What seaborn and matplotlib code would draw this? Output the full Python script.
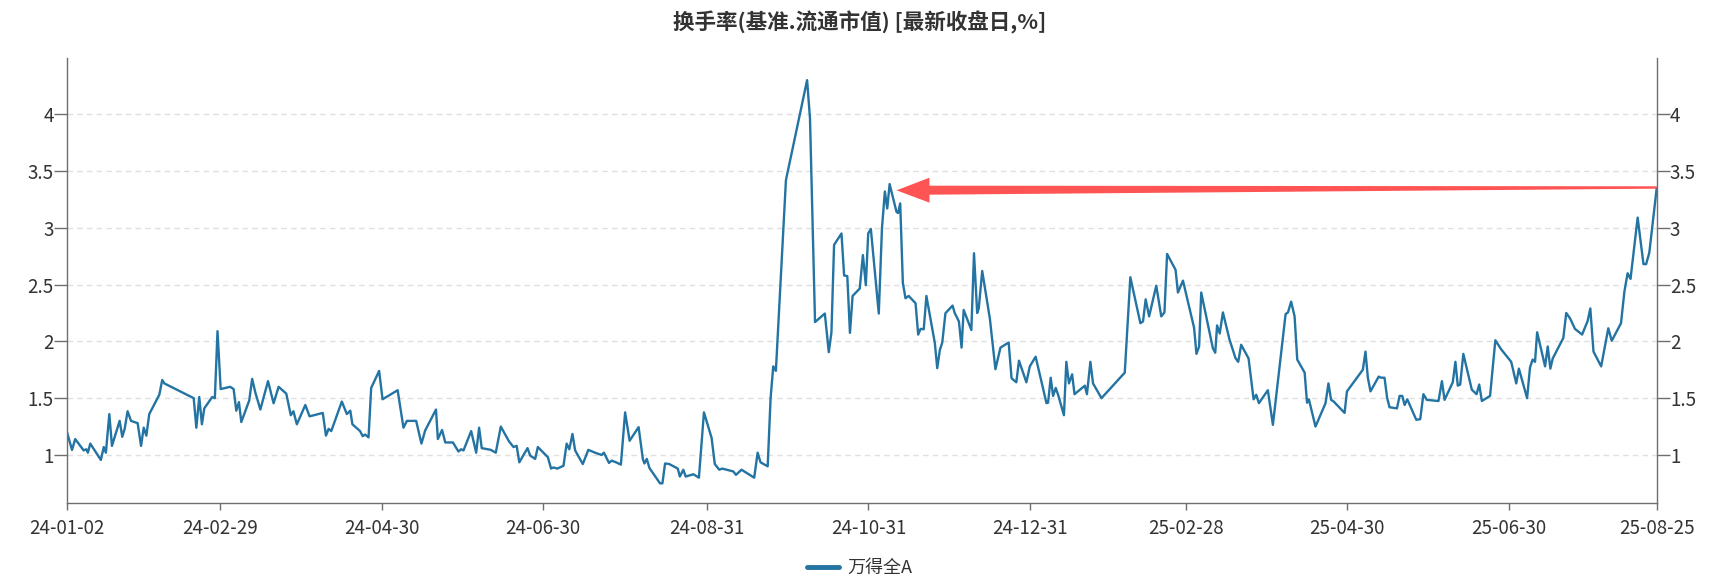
import numpy as np
import pandas as pd
import matplotlib
matplotlib.use('Agg')
import matplotlib.pyplot as plt
import matplotlib.dates as mdates
from matplotlib.patches import Polygon
import seaborn as sns

# 日期以 2024-01-02 为起点的天数
start_date = '2024-01-02'
end_date = '2025-08-25'
days = [
    0, 1.9, 3.1, 6.3, 7.3, 7.9, 8.8, 12.8, 13.9, 14.7, 16.0, 17.0, 19.9, 20.9, 21.8, 22.9,
    24.2, 26.7, 28.0, 29.0, 30.0, 31.1, 34.9, 36.0, 36.8, 47.9, 48.9, 50.0, 51.0, 51.9,
    54.9, 55.9, 56.9, 58.1, 61.7, 63.0, 64.0, 65.0, 65.9, 68.9, 70.0, 71.2, 73.1, 76.0,
    78.1, 80.0, 82.9, 84.6, 85.6, 86.9, 90.1, 91.7, 96.7, 97.9, 98.9, 99.9, 103.9, 105.8,
    107.1, 107.9, 110.8, 111.8, 112.7, 114.0, 115.0, 118.0, 119.3, 125.0, 127.2, 128.5,
    132.0, 134.0, 135.4, 139.5, 140.2, 141.8, 143.0, 145.9, 148.0, 149.0, 149.9, 152.8,
    154.7, 155.8, 156.8, 160.2, 162.1, 164.0, 167.1, 168.8, 170.0, 171.0, 174.1, 175.1,
    177.0, 178.0, 181.8, 183.0, 183.9, 185.4, 187.7, 188.9, 189.9, 191.1, 192.1, 195.0,
    197.1, 199.6, 202.1, 203.0, 204.9, 205.9, 207.6, 209.4, 211.0, 212.7, 216.1, 217.7,
    218.3, 219.2, 220.2, 224.2, 225.1, 226.1, 227.7, 230.9, 231.7, 233.0, 233.9, 236.8,
    238.9, 240.8, 243.7, 244.9, 246.6, 247.7, 251.9, 252.9, 255.0, 259.8, 261.1, 262.2,
    264.9, 266.0, 267.0, 268.0, 271.8, 279.8, 280.9, 282.8, 286.5, 288.0, 289.0, 290.0,
    292.8, 293.8, 295.0, 296.0, 297.0, 299.7, 300.9, 302.0, 302.9, 303.9, 306.9, 308.1,
    309.2, 310.1, 311.0, 313.6, 314.2, 315.0, 316.0, 317.0, 318.2, 320.8, 321.8, 322.7,
    323.9, 324.9, 328.1, 329.0, 330.0, 330.9, 332.1, 334.8, 335.6, 337.2, 338.2, 339.0,
    341.9, 342.9, 344.1, 344.7, 346.0, 348.9, 351.0, 352.9, 356.0, 357.1, 358.9, 359.9,
    362.7, 364.0, 366.2, 370.3, 370.9, 371.9, 372.8, 373.8, 374.7, 376.9, 377.8, 378.8,
    380.0, 380.9, 384.8, 385.6, 386.9, 387.9, 391.1, 399.9, 402.0, 405.8, 406.8, 407.8,
    409.1, 411.8, 413.7, 414.9, 415.9, 419.1, 420.0, 421.9, 426.1, 427.0, 428.0, 428.8,
    433.2, 434.1, 434.8, 435.8, 437.0, 439.5, 441.8, 442.8, 443.9, 446.7, 448.6, 449.6,
    450.6, 454.0, 455.9, 460.7, 461.6, 462.8, 464.1, 465.1, 467.9, 468.8, 469.5, 472.0,
    475.8, 476.9, 477.9, 478.9, 483.0, 483.9, 489.9, 490.9, 491.8, 492.8, 495.9, 496.8,
    498.1, 499.1, 500.0, 502.8, 503.8, 504.8, 505.7, 506.7, 510.1, 511.6, 512.8, 514.1,
    518.5, 519.8, 520.8, 523.9, 524.9, 525.8, 526.7, 527.9, 531.1, 532.9, 533.9, 534.9,
    538.0, 540.0, 542.2, 546.0, 547.9, 548.9, 552.0, 553.1, 554.1, 555.0, 555.8, 558.8,
    559.8, 560.8, 561.7, 565.7, 566.8, 568.3, 570.1, 572.8, 574.9, 575.9, 577.1, 580.0,
    582.7, 584.0, 587.5, 588.8, 590.0, 591.1, 593.8, 596.0, 597.0, 598.2, 601.0,
]
turnover = [
    1.20, 1.044, 1.14, 1.04, 1.05, 1.02, 1.10, 0.956, 1.07, 1.02, 1.36, 1.08, 1.30, 1.16, 1.23, 1.385,
    1.30, 1.28, 1.08, 1.24, 1.17, 1.36, 1.53, 1.66, 1.63, 1.50, 1.24, 1.51, 1.27, 1.41,
    1.51, 1.50, 2.09, 1.58, 1.60, 1.58, 1.39, 1.465, 1.29, 1.48, 1.67, 1.55, 1.40, 1.65,
    1.455, 1.60, 1.54, 1.35, 1.385, 1.27, 1.44, 1.34, 1.37, 1.17, 1.23, 1.21, 1.47, 1.36,
    1.39, 1.27, 1.21, 1.165, 1.18, 1.155, 1.59, 1.74, 1.49, 1.57, 1.24, 1.30,
    1.30, 1.10, 1.215, 1.40, 1.14, 1.22, 1.11, 1.11, 1.03, 1.05, 1.04, 1.21,
    1.02, 1.24, 1.06, 1.045, 1.02, 1.25, 1.12, 1.07, 1.08, 0.935, 1.06, 0.995,
    0.965, 1.07, 0.98, 0.88, 0.89, 0.88, 0.905, 1.10, 1.05, 1.185, 1.04, 0.92,
    1.045, 1.02, 1.00, 1.02, 0.93, 0.95, 0.935, 0.915, 1.375, 1.125, 1.245, 0.965,
    0.925, 0.965, 0.885, 0.75, 0.75, 0.925, 0.92, 0.88, 0.81, 0.87, 0.81, 0.83,
    0.80, 1.375, 1.15, 0.92, 0.87, 0.88, 0.855, 0.825, 0.87, 0.80, 1.02, 0.935,
    0.90, 1.50, 1.78, 1.74, 3.42, 4.30, 3.96, 2.17, 2.245, 1.905, 2.08, 2.85,
    2.95, 2.58, 2.575, 2.075, 2.40, 2.465, 2.76, 2.495, 2.95, 2.99, 2.245, 2.995,
    3.32, 3.17, 3.385, 3.14, 3.13, 3.215, 2.515, 2.38, 2.40, 2.336, 2.06, 2.11,
    2.107, 2.40, 1.984, 1.764, 1.925, 1.99, 2.248, 2.315, 2.25, 2.175, 1.945, 2.277,
    2.10, 2.776, 2.25, 2.29, 2.62, 2.20, 1.755, 1.945, 1.99, 1.675, 1.64, 1.83,
    1.64, 1.78, 1.865, 1.456, 1.46, 1.68, 1.52, 1.59, 1.53, 1.35, 1.82, 1.63,
    1.71, 1.535, 1.61, 1.535, 1.82, 1.63, 1.50, 1.725, 2.565, 2.16, 2.176, 2.37,
    2.22, 2.49, 2.22, 2.255, 2.77, 2.63, 2.43, 2.535, 2.12, 1.89, 1.955, 2.43,
    1.94, 1.90, 2.14, 2.07, 2.255, 2.015, 1.85, 1.82, 1.97, 1.85, 1.49, 1.53,
    1.456, 1.57, 1.265, 2.24, 2.255, 2.35, 2.22, 1.84, 1.725, 1.46, 1.49, 1.25,
    1.456, 1.63, 1.485, 1.47, 1.37, 1.56, 1.75, 1.91, 1.68, 1.56, 1.69, 1.68,
    1.68, 1.50, 1.42, 1.41, 1.52, 1.52, 1.44, 1.49, 1.31, 1.315, 1.535, 1.485,
    1.475, 1.65, 1.485, 1.64, 1.82, 1.61, 1.62, 1.89, 1.575, 1.535, 1.62, 1.475,
    1.52, 2.01, 1.93, 1.82, 1.63, 1.76, 1.50, 1.77, 1.84, 1.82, 2.08, 1.78,
    1.955, 1.76, 1.85, 2.03, 2.25, 2.20, 2.11, 2.06, 2.18, 2.29, 1.91, 1.78,
    2.115, 2.005, 2.16, 2.44, 2.60, 2.55, 3.09, 2.68, 2.68, 2.78, 3.35,
]
x_ticks = ['2024-01-02', '2024-02-29', '2024-04-30', '2024-06-30', '2024-08-31', '2024-10-31',
           '2024-12-31', '2025-02-28', '2025-04-30', '2025-06-30', '2025-08-25']
y_ticks = [1, 1.5, 2, 2.5, 3, 3.5, 4]
series_name = '万得全A'
title = '换手率(基准.流通市值) [最新收盘日,%]'

# 箭头：从最新值指向 2024-11 的高点
arrow_tip = (313.6, 3.33)
arrow_tail = (601.0, 3.355)

line_color = '#2373a3'
arrow_color = '#ff5454'
axis_color = '#6e6e6e'
text_color = '#333333'

df = pd.DataFrame({
    'date': pd.Timestamp(start_date) + pd.to_timedelta(days, unit='D'),
    'value': turnover,
})

sns.set_style('white')
plt.rcParams['font.family'] = ['Noto Sans CJK SC', 'DejaVu Sans']

fig = plt.figure(figsize=(17.19, 5.8), dpi=100)
ax = fig.add_axes([67 / 1719, 1 - 503 / 580, (1656.7 - 67) / 1719, (503 - 58) / 580])

sns.lineplot(data=df, x='date', y='value', ax=ax, color=line_color, linewidth=1.7,
             label=series_name, legend=False)

ax.set_xlim(pd.Timestamp(start_date), pd.Timestamp(end_date))
ax.set_ylim(0.577, 4.495)
ax.set_xlabel('')
ax.set_ylabel('')

ax.set_xticks(pd.to_datetime(x_ticks))
ax.xaxis.set_major_formatter(mdates.DateFormatter('%y-%m-%d'))
ax.set_yticks(y_ticks)
ax.set_yticklabels(['%g' % v for v in y_ticks])

ax.grid(axis='y', linestyle=(0, (4, 3)), color='#e0e0e0', linewidth=1)
ax.grid(axis='x', visible=False)
ax.set_axisbelow(True)

for side in ['left', 'right', 'bottom']:
    ax.spines[side].set_visible(True)
    ax.spines[side].set_color(axis_color)
    ax.spines[side].set_linewidth(1)
ax.spines['top'].set_visible(False)

ax.tick_params(axis='x', direction='out', length=5, width=1, color=axis_color,
               labelsize=13.5, labelcolor=text_color, pad=6, bottom=True)
ax.tick_params(axis='y', direction='out', length=9.5, width=1, color=axis_color,
               labelsize=13.5, labelcolor=text_color, pad=0,
               left=True, right=True, labelleft=True, labelright=True)

# 红色箭头（渐细箭杆）
fig.canvas.draw()
T = ax.transData.transform((mdates.date2num(pd.Timestamp(start_date) + pd.Timedelta(days=arrow_tip[0])), arrow_tip[1]))
E = ax.transData.transform((mdates.date2num(pd.Timestamp(start_date) + pd.Timedelta(days=arrow_tail[0])), arrow_tail[1]))
u = (E - T) / np.hypot(*(E - T))
n = np.array([-u[1], u[0]])
B = T + 33 * u
pts = [T, B + 12.5 * n, B + 4.5 * n, E + 1.2 * n, E - 1.2 * n, B - 4.5 * n, B - 12.5 * n]
pts = ax.transData.inverted().transform(np.array(pts))
ax.add_patch(Polygon(pts, closed=True, facecolor=arrow_color, edgecolor='none', zorder=5, clip_on=False))

fig.text(0.5, 1 - 22 / 580, title, ha='center', va='center', fontsize=15.5,
         fontweight='bold', color=text_color)

handles, labels = ax.get_legend_handles_labels()
leg = fig.legend(handles, labels, loc='center', bbox_to_anchor=(0.5, 1 - 568 / 580),
                 frameon=False, fontsize=13, handlelength=1.8, handletextpad=0.45)
for h in leg.get_lines():
    h.set_linewidth(3.5)
for t in leg.get_texts():
    t.set_color(text_color)

plt.savefig('out.png', dpi=100)
